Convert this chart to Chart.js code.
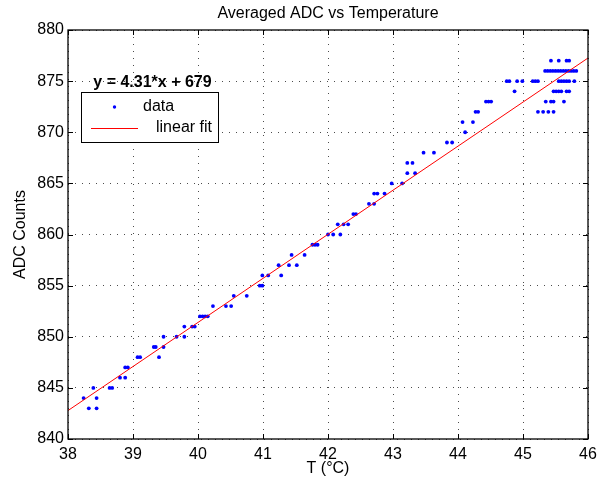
<!DOCTYPE html>
<html>
<head>
<meta charset="utf-8">
<script src="https://cdn.jsdelivr.net/npm/chart.js@4/dist/chart.umd.min.js"></script>
<style>
html,body{margin:0;padding:0;background:#fff;}
#wrap{width:607px;height:481px;}
</style>
</head>
<body>
<div id="wrap"><canvas id="c" width="607" height="481"></canvas></div>
<script>
// ---- data ----
const tempC = [
  38.24,38.32,38.39,38.44,38.44,38.64,38.68,38.80,38.88,38.88,38.92,
  39.07,39.11,39.32,39.35,39.40,39.47,39.47,39.67,39.79,39.79,39.91,39.95,
  40.03,40.07,40.11,40.15,40.23,40.43,40.51,40.55,40.75,40.95,40.99,40.99,
  41.08,41.24,41.28,41.40,41.44,41.52,41.64,41.76,41.80,41.84,
  42.00,42.08,42.15,42.19,42.24,42.31,42.39,42.43,42.63,42.71,42.71,42.76,42.87,42.98,
  43.14,43.22,43.34,43.22,43.30,43.47,43.63,43.83,43.91,
  44.07,44.11,44.23,44.27,44.31,44.43,44.47,44.51,44.75,44.79,44.87,44.91,44.99,
  45.15,45.19,45.23,45.23,45.31,45.35,45.39,45.43,45.47,45.47,45.63,
  45.34,45.38,45.42,45.46,45.50,45.54,45.58,45.62,45.66,45.70,45.74,45.78,45.82,
  45.43,45.55,45.67,45.71,
  45.55,45.59,45.63,45.67,45.71,45.79,
  45.47,45.51,45.55,45.59,45.67,45.71
];
const adcCounts = [
  844,843,845,844,843,845,845,846,846,847,847,
  848,848,849,849,848,850,849,850,851,850,851,851,
  852,852,852,852,853,853,853,854,854,855,855,856,
  856,857,856,857,858,857,858,859,859,859,
  860,860,861,860,861,861,862,862,863,863,864,864,864,865,
  865,866,866,867,867,868,868,869,869,
  871,870,871,872,872,873,873,873,875,875,874,875,875,
  875,875,875,872,872,873,872,873,873,872,873,
  876,876,876,876,876,876,876,876,876,876,876,876,876,
  877,877,877,877,
  875,875,875,875,875,875,
  874,874,874,874,874,874
];
const fitX = [38, 46];
const fitY = [842.78, 877.26];
const xTicks = [38,39,40,41,42,43,44,45,46];
const yTicks = [840,845,850,855,860,865,870,875,880];
const titleText = 'Averaged ADC vs Temperature';
const xLabel = 'T (°C)';
const yLabel = 'ADC Counts';
const legendLabels = ['data', 'linear fit'];
const eqText = 'y = 4.31*x + 679';
const eqPos = {x: 39.3, y: 875};

const FONT = 'Liberation Sans, Arial, Helvetica, sans-serif';

const scatterData = tempC.map((t, i) => ({x: t, y: adcCounts[i]}));
const fitData = fitX.map((t, i) => ({x: t, y: fitY[i]}));

// box, inward ticks, equation text and legend
const decorPlugin = {
  id: 'decor',
  afterDraw(chart) {
    const {ctx, chartArea: a, scales: {x, y}} = chart;
    ctx.save();
    // inward ticks
    ctx.strokeStyle = '#000';
    ctx.lineWidth = 1;
    const tl = 5;
    ctx.beginPath();
    xTicks.forEach(v => {
      const px = Math.round(x.getPixelForValue(v)) + 0.5;
      ctx.moveTo(px, a.bottom); ctx.lineTo(px, a.bottom - tl);
      ctx.moveTo(px, a.top); ctx.lineTo(px, a.top + tl);
    });
    yTicks.forEach(v => {
      const py = Math.round(y.getPixelForValue(v)) + 0.5;
      ctx.moveTo(a.left, py); ctx.lineTo(a.left + tl, py);
      ctx.moveTo(a.right, py); ctx.lineTo(a.right - tl, py);
    });
    ctx.stroke();
    // box
    ctx.lineWidth = 1.3;
    ctx.strokeRect(a.left, a.top, a.right - a.left, a.bottom - a.top);

    // equation text
    ctx.fillStyle = '#000';
    ctx.font = 'bold 16px ' + FONT;
    ctx.textAlign = 'center';
    ctx.textBaseline = 'alphabetic';
    ctx.fillText(eqText, x.getPixelForValue(eqPos.x), y.getPixelForValue(eqPos.y) + 6);

    // legend
    const lx = a.left + 13, ly = a.top + 62, lw = 137, lh = 50;
    ctx.fillStyle = '#fff';
    ctx.fillRect(lx, ly, lw, lh);
    ctx.lineWidth = 1;
    ctx.strokeStyle = '#000';
    ctx.strokeRect(lx + 0.5, ly + 0.5, lw, lh);
    // data marker
    ctx.fillStyle = '#0000ff';
    ctx.beginPath();
    ctx.arc(lx + 33.5, ly + 15, 1.7, 0, Math.PI * 2);
    ctx.fill();
    // fit line
    ctx.strokeStyle = '#ff0000';
    ctx.beginPath();
    ctx.moveTo(lx + 10, ly + 36.5); ctx.lineTo(lx + 57, ly + 36.5);
    ctx.stroke();
    ctx.fillStyle = '#000';
    ctx.font = '16px ' + FONT;
    ctx.textAlign = 'left';
    ctx.textBaseline = 'middle';
    ctx.fillText(legendLabels[0], lx + 62, ly + 15);
    ctx.fillText(legendLabels[1], lx + 75, ly + 36);
    ctx.restore();
  }
};

new Chart(document.getElementById('c'), {
  type: 'scatter',
  data: {
    datasets: [
      {
        label: legendLabels[0],
        data: scatterData,
        backgroundColor: '#0000ff',
        borderColor: '#0000ff',
        pointRadius: 1.9,
        pointBorderWidth: 0,
        showLine: false,
        order: 2
      },
      {
        label: legendLabels[1],
        type: 'line',
        data: fitData,
        borderColor: '#ff0000',
        borderWidth: 1,
        pointRadius: 0,
        fill: false,
        tension: 0,
        order: 1
      }
    ]
  },
  options: {
    responsive: false,
    animation: false,
    devicePixelRatio: 1,
    layout: {padding: {left: 0, right: 19, top: 0, bottom: 0}},
    plugins: {
      legend: {display: false},
      tooltip: {enabled: false},
      title: {
        display: true,
        text: titleText,
        fullSize: false,
        color: '#000',
        font: {family: FONT, size: 16, weight: 'normal'},
        padding: {top: 4, bottom: 6.8}
      }
    },
    scales: {
      x: {
        type: 'linear',
        min: 38, max: 46,
        afterBuildTicks(s) { s.ticks = xTicks.map(v => ({value: v})); },
        afterFit(s) { s.height = 42; },
        ticks: {color: '#000', font: {family: FONT, size: 16}, padding: 6, maxRotation: 0},
        grid: {color: 'rgba(0,0,0,0.7)', lineWidth: 1, drawTicks: false},
        border: {display: false, dash: [1, 6]},
        title: {display: true, text: xLabel, color: '#000', font: {family: FONT, size: 16}, padding: {top: 0, bottom: 3}}
      },
      y: {
        type: 'linear',
        min: 840, max: 880,
        afterBuildTicks(s) { s.ticks = yTicks.map(v => ({value: v})); },
        afterFit(s) { s.width = 68; },
        ticks: {color: '#000', font: {family: FONT, size: 16}, padding: 4},
        grid: {color: 'rgba(0,0,0,0.7)', lineWidth: 1, drawTicks: false},
        border: {display: false, dash: [1, 6]},
        title: {display: true, text: yLabel, color: '#000', font: {family: FONT, size: 16}, padding: {top: 11, bottom: 0}}
      }
    }
  },
  plugins: [decorPlugin]
});
</script>
</body>
</html>
